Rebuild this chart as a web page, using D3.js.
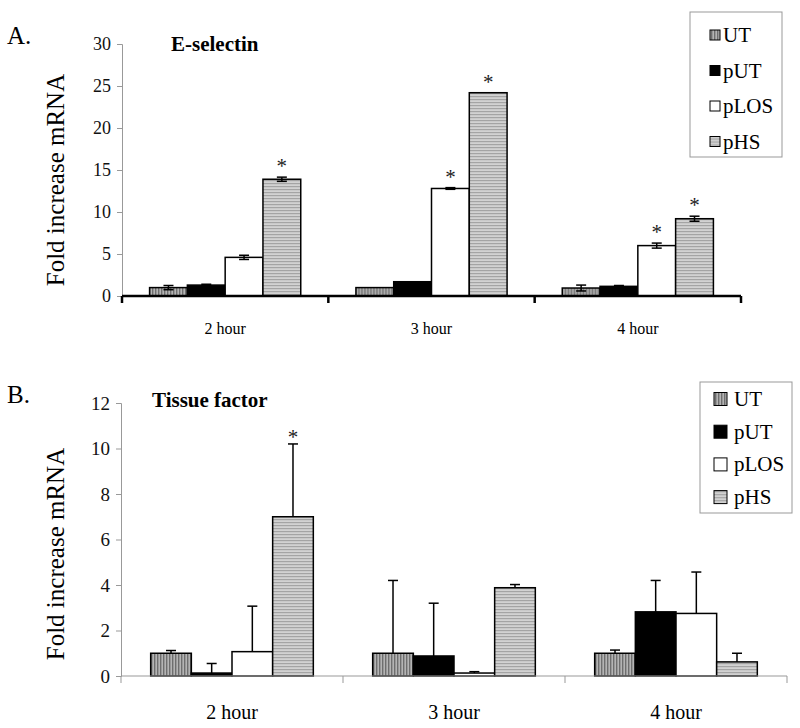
<!DOCTYPE html>
<html>
<head>
<meta charset="utf-8">
<script src="https://cdn.jsdelivr.net/npm/d3@7"></script>
<style>
  body { margin: 0; background: #fff; }
  svg text { font-family: "Liberation Serif", "Times New Roman", serif; }
</style>
</head>
<body>
<div id="chart"></div>
<script>
// categories and series
const hours = ['2 hour', '3 hour', '4 hour'];
const series = ['UT', 'pUT', 'pLOS', 'pHS'];

// A. E-selectin (fold increase, one value per hour)
const eselUT = [1.0, 1.0, 0.95];
const eselPUT = [1.3, 1.7, 1.15];
const eselPLOS = [4.6, 12.8, 6.0];
const eselPHS = [13.9, 24.2, 9.2];
const eselUTErr = [0.25, 0, 0.35];
const eselPUTErr = [0.1, 0, 0.1];
const eselPLOSErr = [0.25, 0.1, 0.3];
const eselPHSErr = [0.25, 0, 0.3];
const eselSig = [['pHS'], ['pLOS', 'pHS'], ['pLOS', 'pHS']];
const eselTicks = [0, 5, 10, 15, 20, 25, 30];

// B. Tissue factor
const tfUT = [1.0, 1.0, 1.0];
const tfPUT = [0.13, 0.88, 2.82];
const tfPLOS = [1.07, 0.13, 2.75];
const tfPHS = [7.0, 3.88, 0.62];
const tfUTErr = [0.12, 3.2, 0.14];
const tfPUTErr = [0.42, 2.32, 1.38];
const tfPLOSErr = [2.0, 0.06, 1.82];
const tfPHSErr = [3.2, 0.14, 0.38];
const tfSig = [['pHS'], [], []];
const tfTicks = [0, 2, 4, 6, 8, 10, 12];

const SERIF = '"Liberation Serif", "Times New Roman", serif';

const svg = d3.select('#chart').append('svg')
  .attr('width', 800)
  .attr('height', 728)
  .attr('font-family', SERIF);

// fill patterns
const defs = svg.append('defs');
const pUT = defs.append('pattern').attr('id', 'pat-ut')
  .attr('patternUnits', 'userSpaceOnUse').attr('width', 3).attr('height', 3);
pUT.append('rect').attr('width', 3).attr('height', 3).attr('fill', '#b4b4b4');
pUT.append('rect').attr('width', 1.4).attr('height', 3).attr('fill', '#6e6e6e');

const pHS = defs.append('pattern').attr('id', 'pat-hs')
  .attr('patternUnits', 'userSpaceOnUse').attr('width', 3).attr('height', 3);
pHS.append('rect').attr('width', 3).attr('height', 3).attr('fill', '#d2d2d2');
pHS.append('rect').attr('width', 3).attr('height', 1.2).attr('fill', '#a4a4a4');

const fills = {
  UT: 'url(#pat-ut)', pUT: '#000', pLOS: '#fff', pHS: 'url(#pat-hs)',
};

function panel(cfg) {
  const x0 = d3.scaleBand().domain(hours).range([cfg.left, cfg.right]);
  const x1 = d3.scaleBand().domain(series).range([0, x0.bandwidth()])
    .paddingInner(0).paddingOuter(0.73);
  const y = d3.scaleLinear().domain([0, d3.max(cfg.ticks)])
    .range([cfg.bottom, cfg.top]);

  const g = svg.append('g');

  // y axis (light grey)
  const yAxis = g.append('g')
    .attr('transform', `translate(${cfg.left},0)`)
    .call(d3.axisLeft(y).tickValues(cfg.ticks).tickSize(5).tickPadding(6));
  yAxis.attr('font-family', SERIF);
  yAxis.select('.domain').attr('stroke', '#999');
  yAxis.selectAll('.tick line').attr('stroke', '#999');
  yAxis.selectAll('.tick text')
    .attr('font-size', cfg.tickSize)
    .attr('font-family', SERIF)
    .attr('fill', '#111');

  // bars
  const rows = hours.map((h, i) => ({
    hour: h,
    items: series.map(s => ({
      s, v: cfg.values[s][i], e: cfg.errors[s][i], sig: cfg.sig[i].includes(s),
    })),
  }));

  const grp = g.selectAll('.grp').data(rows).enter().append('g')
    .attr('transform', d => `translate(${x0(d.hour)},0)`);

  grp.selectAll('rect').data(d => d.items).enter().append('rect')
    .attr('x', d => x1(d.s))
    .attr('y', d => y(d.v))
    .attr('width', x1.bandwidth())
    .attr('height', d => y(0) - y(d.v))
    .attr('fill', d => fills[d.s])
    .attr('stroke', '#000')
    .attr('stroke-width', 1.5);

  // error bars
  const eb = grp.selectAll('.err').data(d => d.items.filter(it => it.e > 0))
    .enter().append('g').attr('class', 'err');
  const cx = d => x1(d.s) + x1.bandwidth() / 2;
  eb.append('line')
    .attr('x1', cx).attr('x2', cx)
    .attr('y1', d => (cfg.twoSided ? y(d.v - d.e) : y(d.v)))
    .attr('y2', d => y(d.v + d.e))
    .attr('stroke', '#000').attr('stroke-width', 1.5);
  eb.append('line')
    .attr('x1', d => cx(d) - 5).attr('x2', d => cx(d) + 5)
    .attr('y1', d => y(d.v + d.e)).attr('y2', d => y(d.v + d.e))
    .attr('stroke', '#000').attr('stroke-width', 1.5);
  if (cfg.twoSided) {
    eb.append('line')
      .attr('x1', d => cx(d) - 5).attr('x2', d => cx(d) + 5)
      .attr('y1', d => y(d.v - d.e)).attr('y2', d => y(d.v - d.e))
      .attr('stroke', '#000').attr('stroke-width', 1.5);
  }

  // significance stars
  grp.selectAll('.star').data(d => d.items.filter(it => it.sig)).enter()
    .append('text')
    .attr('x', cx)
    .attr('y', d => y(d.v + d.e) - cfg.starGap)
    .attr('text-anchor', 'middle')
    .attr('font-size', 21)
    .attr('fill', '#222')
    .text('*');

  // x axis
  const xAxis = g.append('g')
    .attr('transform', `translate(0,${cfg.bottom})`);
  xAxis.append('line')
    .attr('x1', cfg.left).attr('x2', cfg.right)
    .attr('stroke', cfg.xStroke).attr('stroke-width', cfg.xWidth);
  const edges = hours.map(h => x0(h)).concat([cfg.right]);
  xAxis.selectAll('.xt').data(edges).enter().append('line')
    .attr('x1', d => d).attr('x2', d => d)
    .attr('y1', 0).attr('y2', cfg.xTickLen)
    .attr('stroke', cfg.xStroke).attr('stroke-width', cfg.xWidth);
  g.selectAll('.xl').data(hours).enter().append('text')
    .attr('x', d => x0(d) + x0.bandwidth() / 2)
    .attr('y', cfg.xLabelY)
    .attr('text-anchor', 'middle')
    .attr('font-size', cfg.xLabelSize)
    .text(d => d);

  // titles
  svg.append('text').attr('x', 7).attr('y', cfg.letterY)
    .attr('font-size', 25).text(cfg.letter);
  svg.append('text').attr('x', cfg.titleX).attr('y', cfg.titleY)
    .attr('font-size', 21).attr('font-weight', 'bold').text(cfg.title);
  svg.append('text')
    .attr('transform', `translate(64,${cfg.ylabY}) rotate(-90)`)
    .attr('text-anchor', 'middle')
    .attr('font-size', 25)
    .text('Fold increase mRNA');

  // legend
  const lg = svg.append('g');
  lg.append('rect')
    .attr('x', cfg.leg.x).attr('y', cfg.leg.y)
    .attr('width', cfg.leg.w).attr('height', cfg.leg.h)
    .attr('fill', '#fff').attr('stroke', '#999');
  const it = lg.selectAll('.li').data(series).enter().append('g')
    .attr('transform', (d, i) => `translate(${cfg.leg.x},${cfg.leg.y0 + i * cfg.leg.step})`);
  it.append('rect')
    .attr('x', cfg.leg.sx).attr('y', -cfg.leg.sw / 2)
    .attr('width', cfg.leg.sw).attr('height', cfg.leg.sw)
    .attr('fill', d => fills[d]).attr('stroke', '#000').attr('stroke-width', 1);
  it.append('text')
    .attr('x', cfg.leg.tx).attr('y', 7)
    .attr('font-size', 21)
    .text(d => d);
}

panel({
  left: 122, right: 741, top: 44, bottom: 296,
  ticks: eselTicks, tickSize: 18,
  values: { UT: eselUT, pUT: eselPUT, pLOS: eselPLOS, pHS: eselPHS },
  errors: { UT: eselUTErr, pUT: eselPUTErr, pLOS: eselPLOSErr, pHS: eselPHSErr },
  sig: eselSig, twoSided: true, starGap: 4,
  xStroke: '#000', xWidth: 2.5, xTickLen: 7,
  xLabelY: 334, xLabelSize: 16,
  letter: 'A.', letterY: 44, title: 'E-selectin', titleX: 171, titleY: 51, ylabY: 180,
  leg: { x: 690, y: 12, w: 92, h: 145, y0: 35, step: 35.5, sx: 20, sw: 10, tx: 33 },
});

panel({
  left: 121, right: 787, top: 403, bottom: 676,
  ticks: tfTicks, tickSize: 19,
  values: { UT: tfUT, pUT: tfPUT, pLOS: tfPLOS, pHS: tfPHS },
  errors: { UT: tfUTErr, pUT: tfPUTErr, pLOS: tfPLOSErr, pHS: tfPHSErr },
  sig: tfSig, twoSided: false, starGap: 0,
  xStroke: '#999', xWidth: 1, xTickLen: 7,
  xLabelY: 719, xLabelSize: 20,
  letter: 'B.', letterY: 403, title: 'Tissue factor', titleX: 152, titleY: 407, ylabY: 554,
  leg: { x: 700, y: 382, w: 92, h: 131, y0: 399, step: 32.7, sx: 14, sw: 13, tx: 34 },
});
</script>
</body>
</html>
